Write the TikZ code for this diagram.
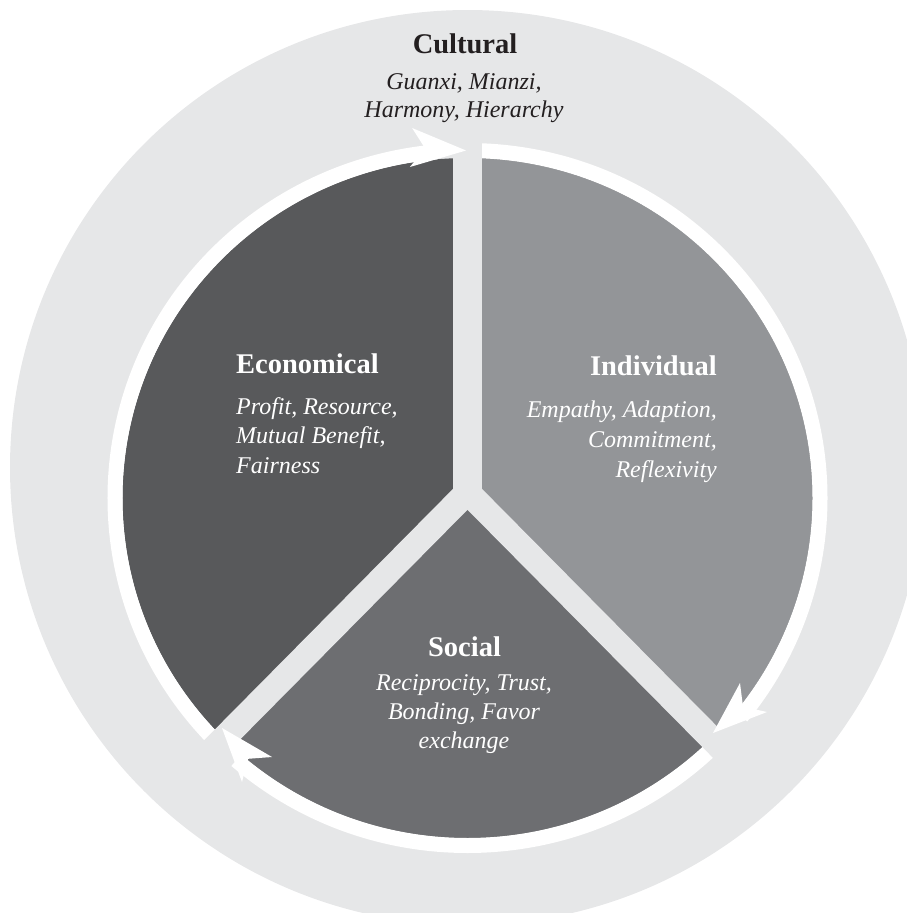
\documentclass[tikz,border=0pt]{standalone}
\usepackage{fontspec}
\setmainfont{Liberation Serif}
\definecolor{outerg}{HTML}{E6E7E8}
\definecolor{econ}{HTML}{58595B}
\definecolor{indiv}{HTML}{939598}
\definecolor{soc}{HTML}{6D6E71}
\definecolor{ink}{HTML}{231F20}
\begin{document}
\begin{tikzpicture}[x=1pt,y=-1pt,
  headtxt/.style={font=\fontsize{28.5}{34}\selectfont\bfseries, inner sep=0pt},
  subtxt/.style={font=\fontsize{24}{29}\selectfont\itshape, inner sep=0pt},
  band/.style={draw=outerg, line cap=butt},
  ring/.style={draw=white, line width=15pt, line cap=butt},
  tiphead/.style={fill=white}]
\useasboundingbox (0,0) rectangle (907,913);
\clip (0,0) rectangle (907,913);
% outer cultural circle
\fill[outerg] (467.5,467.5) circle[radius=457.5];
\coordinate (E) at (467.5,498);
\coordinate (J) at (467.5,492);
% pie sectors
\fill[econ] (E) ellipse[x radius=345, y radius=340];
\fill[indiv] (J) -- (467.5,158) arc[start angle=-90,end angle=45,x radius=345,y radius=340] -- cycle;
\fill[soc] (J) -- (711.45,738.42) arc[start angle=45,end angle=135,x radius=345,y radius=340] -- cycle;
% white ring arcs
\draw[ring] (467.5,150.5) arc[start angle=-90,end angle=39,x radius=352.5,y radius=347.5];
\draw[ring] (716.76,743.72) arc[start angle=45,end angle=131,x radius=352.5,y radius=347.5];
\draw[ring] (218.24,743.72) arc[start angle=135,end angle=265,x radius=352.5,y radius=347.5];
% separator bands
\coordinate (Btop) at (467.5,110);
\coordinate (Blr) at (740.7,768);
\coordinate (Bll) at (194.3,768);
\draw[band, line width=29.5pt] (J) -- (Btop);
\draw[band, line width=25pt] (J) -- (Blr);
\draw[band, line width=25pt] (J) -- (Bll);
\fill[outerg] (452.75,489.1) -- (482.25,489.1) -- (467.5,509.8) -- cycle;
% arrowheads
\fill[tiphead] (466,150.5) -- (412.1,128) -- (425,148.3) -- (409.9,167) -- cycle;
\fill[tiphead] (713,733) -- (740,683) -- (743,706.7) -- (767,712) -- cycle;
\fill[tiphead] (222,728) -- (272,757) -- (248,758.8) -- (242,782) -- cycle;
% texts
\node[headtxt, text=ink, anchor=base] (cul) at (465,53) {Cultural};
\node[subtxt, text=ink, anchor=base] (cul1) at (464,89) {Guanxi, Mianzi,};
\node[subtxt, text=ink, anchor=base] (cul2) at (464,117) {Harmony, Hierarchy};
\node[headtxt, text=white, anchor=base west] (eco) at (236,373) {Economical};
\node[subtxt, text=white, anchor=base west] (eco1) at (236,414) {Profit, Resource,};
\node[subtxt, text=white, anchor=base west] (eco2) at (236,443.5) {Mutual Benefit,};
\node[subtxt, text=white, anchor=base west] (eco3) at (236,473) {Fairness};
\node[headtxt, text=white, anchor=base east] (ind) at (717,375) {Individual};
\node[subtxt, text=white, anchor=base east] (ind1) at (717,417) {Empathy, Adaption,};
\node[subtxt, text=white, anchor=base east] (ind2) at (717,447) {Commitment,};
\node[subtxt, text=white, anchor=base east] (ind3) at (717,477) {Reflexivity};
\node[headtxt, text=white, anchor=base] (soc) at (464.5,656) {Social};
\node[subtxt, text=white, anchor=base] (soc1) at (464,690) {Reciprocity, Trust,};
\node[subtxt, text=white, anchor=base] (soc2) at (464,719) {Bonding, Favor};
\node[subtxt, text=white, anchor=base] (soc3) at (464,748) {exchange};
\end{tikzpicture}
\end{document}
